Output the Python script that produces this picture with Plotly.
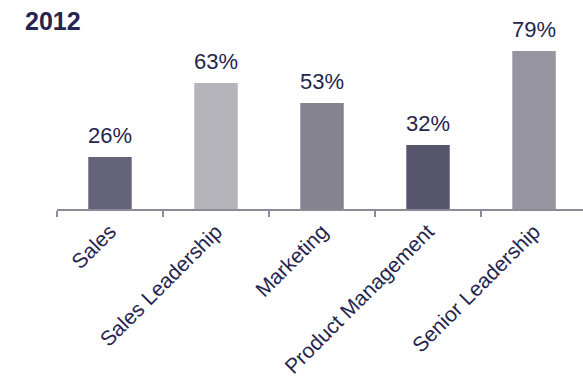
import plotly.graph_objects as go

categories = ["Sales", "Sales Leadership", "Marketing", "Product Management", "Senior Leadership"]
values = [26, 63, 53, 32, 79]
labels = ["26%", "63%", "53%", "32%", "79%"]
bar_colors = ["#65637a", "#b5b4ba", "#858390", "#57546d", "#96949f"]

navy = "#25254f"
axis_gray = "#8c8a96"
FONT = "Liberation Sans, Arial"

fig = go.Figure(
    go.Bar(
        x=categories,
        y=values,
        marker=dict(color=bar_colors, line=dict(width=0)),
        hoverinfo="skip",
    )
)

# percentage labels above each bar
for cat, val, lab in zip(categories, values, labels):
    fig.add_annotation(
        x=cat, y=val, text=lab, showarrow=False,
        yanchor="bottom", yshift=7,
        font=dict(family=FONT, size=22, color=navy),
    )

# year heading in the top-left corner
fig.add_annotation(
    xref="paper", yref="paper",
    x=(23 - 57) / 526, y=1 + (9 - 5) / 200,
    text="<b>2012</b>", showarrow=False, xanchor="left", yanchor="top",
    font=dict(family=FONT, size=25, color=navy),
)

fig.update_layout(
    width=583, height=382,
    margin=dict(l=57, r=0, t=9, b=173, autoexpand=False),
    paper_bgcolor="white", plot_bgcolor="white",
    bargap=0.59,
    showlegend=False,
    font=dict(family=FONT, color=navy),
    xaxis=dict(
        type="category",
        range=[-0.5, 4.462],
        automargin=False,
        showline=True, linecolor=axis_gray, linewidth=2,
        ticks="outside", tickson="boundaries", ticklen=6, tickcolor=axis_gray, tickwidth=2,
        tickangle=-45,
        tickfont=dict(family=FONT, size=21, color=navy),
        showgrid=False, zeroline=False,
    ),
    yaxis=dict(range=[0, 100], visible=False, showgrid=False, zeroline=False, automargin=False),
)

fig.write_html("out.html")
